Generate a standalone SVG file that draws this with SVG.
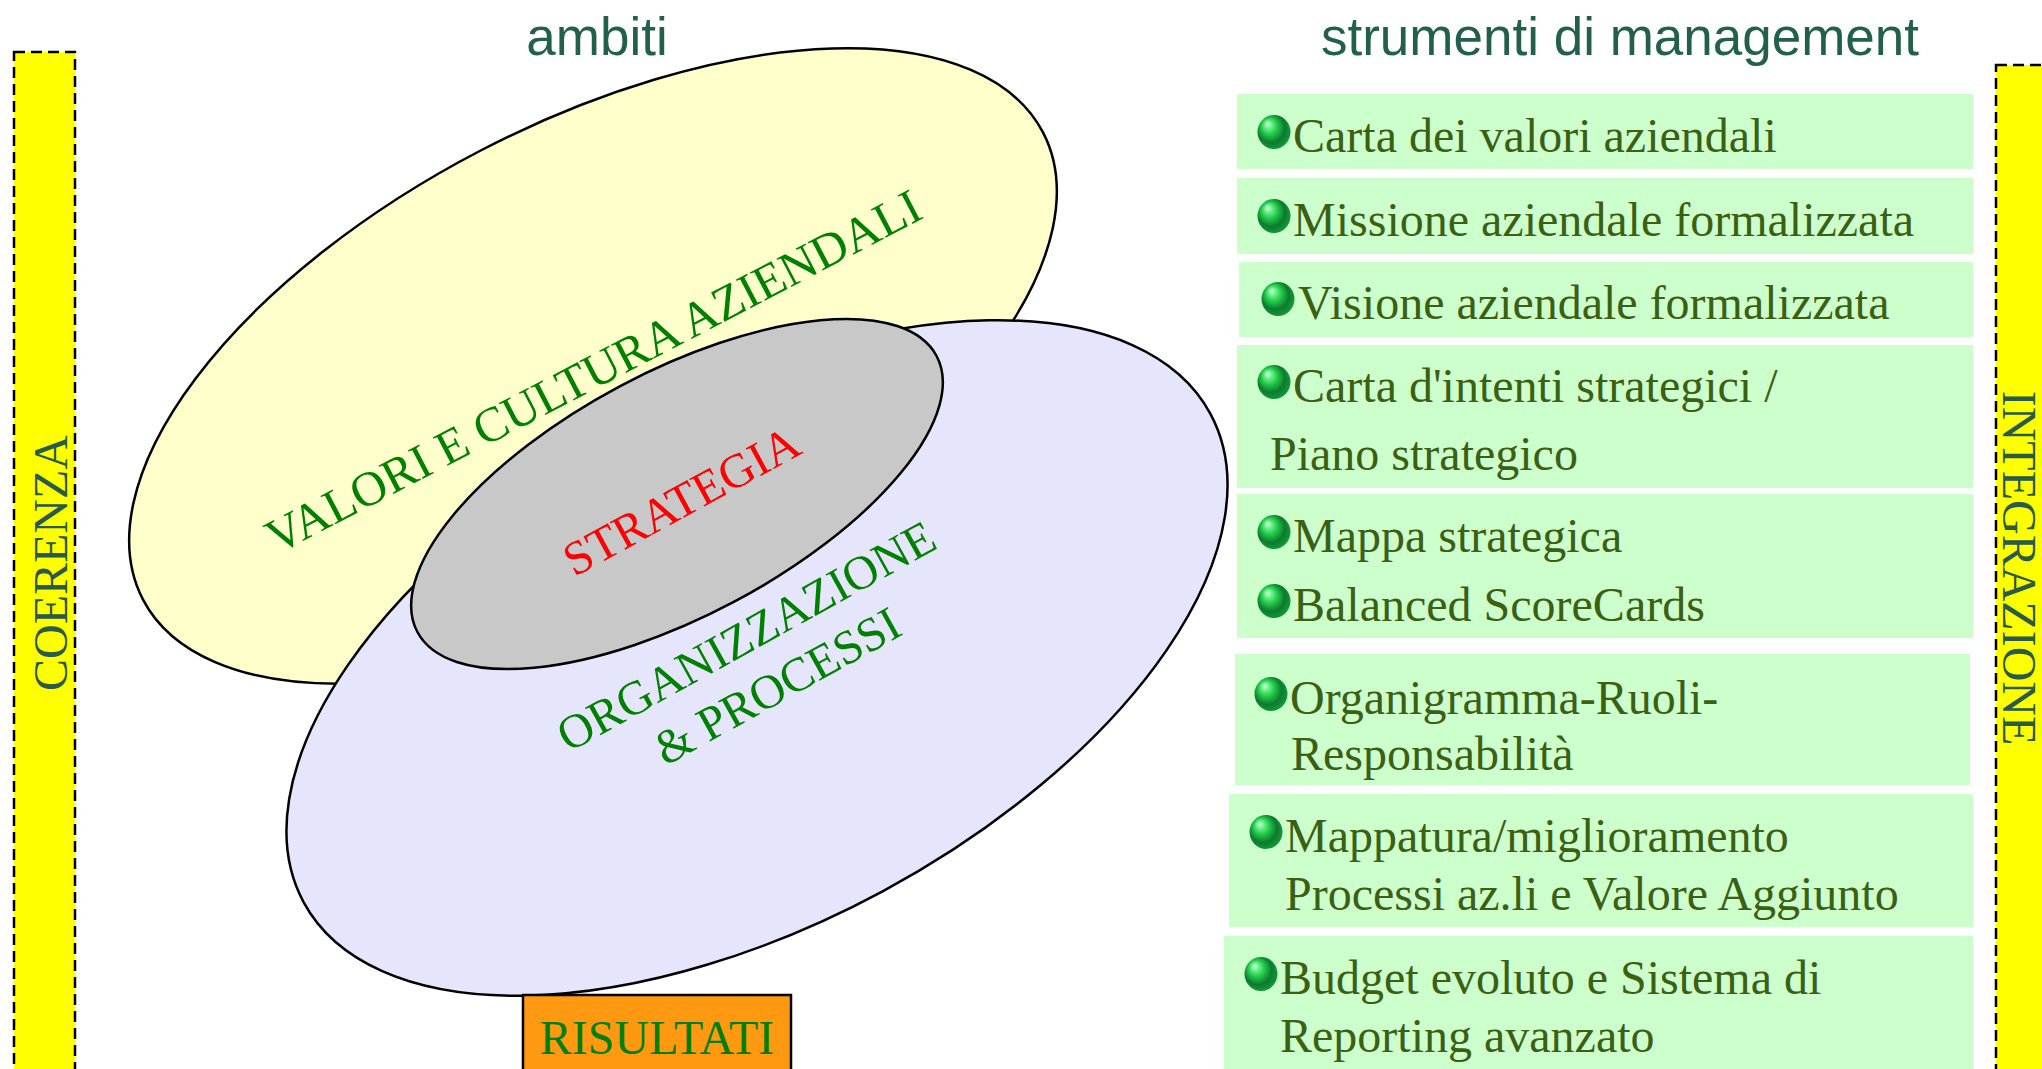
<svg xmlns="http://www.w3.org/2000/svg" xmlns:xlink="http://www.w3.org/1999/xlink" width="2042" height="1069" viewBox="0 0 2042 1069">
<style>
.hdr{font-family:"Liberation Sans",Arial,sans-serif;font-size:53px;fill:#23604C}
.side{font-family:"Liberation Serif","Times New Roman",serif;font-size:48px;fill:#2A5A48}
.ell{stroke:#000;stroke-width:2.5}
.lbl{font-family:"Liberation Serif","Times New Roman",serif;fill:#008000;text-anchor:middle}
.box{fill:#CCFFCC}
.item{font-family:"Liberation Serif","Times New Roman",serif;font-size:48px;fill:#3B6012}
.bar{fill:#FFFF00;stroke:#000;stroke-width:2.5;stroke-dasharray:11 6}
</style>
<defs>
<radialGradient id="gb" cx="0.45" cy="0.45" r="0.6" fx="0.3" fy="0.25">
<stop offset="0" stop-color="#D8FFE0"/>
<stop offset="0.18" stop-color="#70F090"/>
<stop offset="0.4" stop-color="#22CC48"/>
<stop offset="0.7" stop-color="#0E7A30"/>
<stop offset="1" stop-color="#10A038"/>
</radialGradient>
<g id="bullet"><ellipse cx="0" cy="0" rx="16.5" ry="17" fill="url(#gb)"/></g>
</defs>

<g id="coerenza">
<rect class="bar" x="14" y="52" width="61" height="1040"/>
<text class="side" transform="translate(67,563) rotate(-90)" text-anchor="middle">COERENZA</text>
</g>
<g id="integrazione">
<rect class="bar" x="1996" y="65" width="70" height="1030"/>
<text class="side" transform="translate(2003,568) rotate(90)" text-anchor="middle">INTEGRAZIONE</text>
</g>

<g id="header-ambiti"><text class="hdr" x="597" y="55" text-anchor="middle">ambiti</text></g>
<g id="header-strumenti"><text class="hdr" x="1620" y="55" text-anchor="middle">strumenti di management</text></g>

<g id="valori">
<ellipse class="ell" cx="593" cy="366" rx="507" ry="243" fill="#FFFFCC" transform="rotate(-27.4 593 366)"/>
</g>
<g id="organizzazione">
<ellipse class="ell" cx="757" cy="658" rx="515" ry="265" fill="#E5E5FC" transform="rotate(-28.3 757 658)"/>
</g>
<g id="strategia">
<ellipse class="ell" cx="677" cy="494" rx="294" ry="122" fill="#C8C8C8" transform="rotate(-28 677 494)"/>
</g>
<g id="labels">
<text class="lbl" font-size="49" transform="translate(601,386) rotate(-27.5)">VALORI E CULTURA AZIENDALI</text>
<text class="lbl" font-size="48" style="fill:#FF0000" transform="translate(689,515) rotate(-28.5)">STRATEGIA</text>
<text class="lbl" font-size="48" transform="translate(754,650) rotate(-29)">ORGANIZZAZIONE</text>
<text class="lbl" font-size="48" transform="translate(785,700) rotate(-29)">&amp; PROCESSI</text>
</g>

<g id="risultati">
<rect x="523" y="995" width="268" height="90" fill="#FF9912" stroke="#000" stroke-width="2.5"/>
<text class="lbl" font-size="48" x="657" y="1054">RISULTATI</text>
</g>

<g id="strumenti">
<g id="s1"><rect class="box" x="1237" y="94" width="736" height="75"/><use xlink:href="#bullet" x="1274" y="132"/><text class="item" x="1293" y="152">Carta dei valori aziendali</text></g>
<g id="s2"><rect class="box" x="1237" y="178" width="736" height="76"/><use xlink:href="#bullet" x="1274" y="216"/><text class="item" x="1293" y="236">Missione aziendale formalizzata</text></g>
<g id="s3"><rect class="box" x="1239" y="262" width="734" height="75"/><use xlink:href="#bullet" x="1278" y="299"/><text class="item" x="1298" y="319">Visione aziendale formalizzata</text></g>
<g id="s4"><rect class="box" x="1237" y="345" width="736" height="143"/><use xlink:href="#bullet" x="1274" y="382"/><text class="item" x="1293" y="402">Carta d'intenti strategici /</text><text class="item" x="1270" y="470">Piano strategico</text></g>
<g id="s5"><rect class="box" x="1237" y="494" width="736" height="144"/><use xlink:href="#bullet" x="1274" y="532"/><text class="item" x="1293" y="552">Mappa strategica</text><use xlink:href="#bullet" x="1274" y="601"/><text class="item" x="1293" y="621">Balanced ScoreCards</text></g>
<g id="s6"><rect class="box" x="1235" y="654" width="735" height="131"/><use xlink:href="#bullet" x="1271" y="694"/><text class="item" x="1290" y="714">Organigramma-Ruoli-</text><text class="item" x="1291" y="770">Responsabilità</text></g>
<g id="s7"><rect class="box" x="1229" y="794" width="744" height="133"/><use xlink:href="#bullet" x="1266" y="832"/><text class="item" x="1285" y="852">Mappatura/miglioramento</text><text class="item" x="1285" y="910">Processi az.li e Valore Aggiunto</text></g>
<g id="s8"><rect class="box" x="1224" y="936" width="749" height="140"/><use xlink:href="#bullet" x="1261" y="974"/><text class="item" x="1280" y="994">Budget evoluto e Sistema di</text><text class="item" x="1280" y="1052">Reporting avanzato</text></g>
</g>
<g id="connectors"/>
</svg>
